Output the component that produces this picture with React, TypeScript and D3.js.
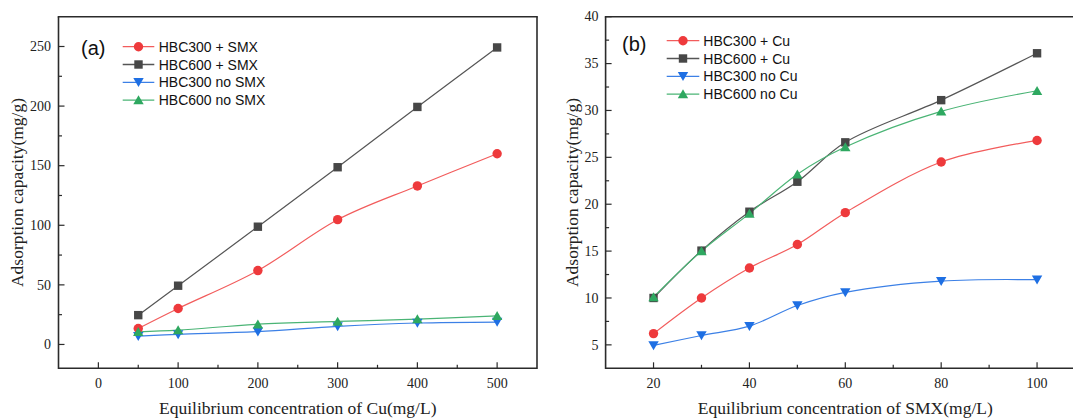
import React from "react";
import * as d3 from "d3";

// ---------- DATA ----------
const cuConc = [50, 100, 200, 300, 400, 500];
const hbc300SMX = [13.4, 30.2, 62, 104.7, 133, 160];
const hbc600SMX = [24.6, 49.3, 98.8, 148.7, 199.3, 249.2];
const hbc300noSMX = [7, 8.5, 10.8, 15.2, 18, 18.8];
const hbc600noSMX = [10.6, 12, 17, 19.3, 21.3, 24];

const smxConc = [20, 30, 40, 50, 60, 80, 100];
const hbc300Cu = [6.2, 10, 13.2, 15.7, 19.1, 24.5, 26.8];
const hbc600Cu = [10, 15.05, 19.2, 22.4, 26.6, 31.1, 36.1];
const hbc300noCu = [4.95, 6, 7, 9.2, 10.6, 11.8, 11.95];
const hbc600noCu = [10.1, 15, 19, 23.2, 26.1, 29.9, 32.1];

const legendA = ["HBC300 + SMX", "HBC600 + SMX", "HBC300 no SMX", "HBC600 no SMX"];
const legendB = ["HBC300 + Cu", "HBC600 + Cu", "HBC300 no Cu", "HBC600 no Cu"];

const xTicksA = [0, 100, 200, 300, 400, 500];
const xMinorA = [50, 150, 250, 350, 450];
const yTicksA = [0, 50, 100, 150, 200, 250];
const yMinorA = [25, 75, 125, 175, 225];

const xTicksB = [20, 40, 60, 80, 100];
const xMinorB = [30, 50, 70, 90];
const yTicksB = [5, 10, 15, 20, 25, 30, 35, 40];
const yMinorB = [7.5, 12.5, 17.5, 22.5, 27.5, 32.5, 37.5];

// ---------- STYLE ----------
const styles = [
  { marker: "circle", fill: "#EE3A3C", line: "#F25C5C" },
  { marker: "square", fill: "#474747", line: "#555555" },
  { marker: "down", fill: "#1E6FE3", line: "#3C80E6" },
  { marker: "up", fill: "#2EA860", line: "#4AB475" },
];

const AXIS = "#2b2b2b";
const SERIF = "'Liberation Serif', 'Times New Roman', serif";
const SANS = "'Liberation Sans', Arial, sans-serif";

function Marker({ type, x, y, fill }: { type: string; x: number; y: number; fill: string }) {
  if (type === "circle") return <circle cx={x} cy={y} r={4.7} fill={fill} />;
  if (type === "square") return <rect x={x - 4.2} y={y - 4.2} width={8.4} height={8.4} fill={fill} />;
  if (type === "down")
    return <path d={`M${x - 5.2},${y - 4.2}L${x + 5.2},${y - 4.2}L${x},${y + 4.8}Z`} fill={fill} />;
  return <path d={`M${x - 5.2},${y + 4.2}L${x + 5.2},${y + 4.2}L${x},${y - 4.8}Z`} fill={fill} />;
}

type PanelProps = {
  left: number; right: number; top: number; bottom: number;
  xDomain: [number, number]; yDomain: [number, number];
  xTicks: number[]; xMinor: number[]; yTicks: number[]; yMinor: number[];
  xs: number[]; series: number[][]; names: string[];
  xTitle: string; tag: string;
  tagX: number; tagY: number;
  legX1: number; legX2: number; legTextX: number; legY0: number; legDy: number;
  yTitleX: number; yLabelRight: number; showRight: boolean;
};

function Panel(p: PanelProps) {
  const x = d3.scaleLinear().domain(p.xDomain).range([p.left, p.right]);
  const y = d3.scaleLinear().domain(p.yDomain).range([p.bottom, p.top]);
  const line = d3
    .line<[number, number]>()
    .x((d) => x(d[0]))
    .y((d) => y(d[1]))
    .curve(d3.curveCatmullRom.alpha(0.5));
  const major = 6;
  const minor = 3.5;
  const midY = (p.top + p.bottom) / 2;
  return (
    <g>
      {/* series lines */}
      {p.series.map((s, i) => (
        <path
          key={"l" + i}
          d={line(p.xs.map((v, j) => [v, s[j]] as [number, number])) || ""}
          fill="none"
          stroke={styles[i].line}
          strokeWidth={1.2}
        />
      ))}
      {/* markers */}
      {p.series.map((s, i) =>
        p.xs.map((v, j) => (
          <Marker key={"m" + i + "-" + j} type={styles[i].marker} x={x(v)} y={y(s[j])} fill={styles[i].fill} />
        ))
      )}
      {/* frame */}
      <line x1={p.left} x2={p.right} y1={p.bottom} y2={p.bottom} stroke={AXIS} strokeWidth={1.6} />
      <line x1={p.left} x2={p.left} y1={p.top} y2={p.bottom + 0.8} stroke={AXIS} strokeWidth={1.6} />
      <line x1={p.left - 0.8} x2={p.right + 0.8} y1={p.top} y2={p.top} stroke={AXIS} strokeWidth={1.6} />
      {p.showRight && (
        <line x1={p.right} x2={p.right} y1={p.top} y2={p.bottom + 0.8} stroke={AXIS} strokeWidth={1.6} />
      )}
      {/* x ticks */}
      {p.xTicks.map((t) => (
        <g key={"xt" + t}>
          <line x1={x(t)} x2={x(t)} y1={p.bottom} y2={p.bottom - major} stroke={AXIS} strokeWidth={1.2} />
          <text x={x(t)} y={p.bottom + 19.5} textAnchor="middle" fontFamily={SERIF} fontSize={14} fill="#222">
            {t}
          </text>
        </g>
      ))}
      {p.xMinor.map((t) => (
        <line key={"xm" + t} x1={x(t)} x2={x(t)} y1={p.bottom} y2={p.bottom - minor} stroke={AXIS} strokeWidth={1.2} />
      ))}
      {/* y ticks */}
      {p.yTicks.map((t) => (
        <g key={"yt" + t}>
          <line x1={p.left} x2={p.left + major} y1={y(t)} y2={y(t)} stroke={AXIS} strokeWidth={1.2} />
          <text x={p.yLabelRight} y={y(t) + 4.7} textAnchor="end" fontFamily={SERIF} fontSize={14} fill="#222">
            {t}
          </text>
        </g>
      ))}
      {p.yMinor.map((t) => (
        <line key={"ym" + t} x1={p.left} x2={p.left + minor} y1={y(t)} y2={y(t)} stroke={AXIS} strokeWidth={1.2} />
      ))}
      {/* titles */}
      <text
        x={(p.left + (p.showRight ? p.right : p.right)) / 2}
        y={414}
        textAnchor="middle"
        fontFamily={SERIF}
        fontSize={17.5}
        fill="#222"
      >
        {p.xTitle}
      </text>
      <text
        transform={`translate(${p.yTitleX},${midY}) rotate(-90)`}
        textAnchor="middle"
        fontFamily={SERIF}
        fontSize={17.5}
        fill="#222"
      >
        Adsorption capacity(mg/g)
      </text>
      {/* tag */}
      <text x={p.tagX} y={p.tagY} fontFamily={SANS} fontSize={20} fill="#111">
        {p.tag}
      </text>
      {/* legend */}
      {p.names.map((n, i) => {
        const ly = p.legY0 + i * p.legDy;
        return (
          <g key={"lg" + i}>
            <line x1={p.legX1} x2={p.legX2} y1={ly} y2={ly} stroke={styles[i].line} strokeWidth={1.3} />
            <Marker type={styles[i].marker} x={(p.legX1 + p.legX2) / 2} y={ly} fill={styles[i].fill} />
            <text x={p.legTextX} y={ly + 5} fontFamily={SANS} fontSize={14} fill="#111">
              {n}
            </text>
          </g>
        );
      })}
    </g>
  );
}

export default function App() {
  return (
    <svg
      width={1073}
      height={419}
      style={{ position: "absolute", left: 0, top: 0, background: "#fff" }}
    >
      <rect x={0} y={0} width={1073} height={419} fill="#fff" />
      <Panel
        left={58.5}
        right={537}
        top={16.7}
        bottom={368.3}
        xDomain={[-50, 550]}
        yDomain={[-20, 275]}
        xTicks={xTicksA}
        xMinor={xMinorA}
        yTicks={yTicksA}
        yMinor={yMinorA}
        xs={cuConc}
        series={[hbc300SMX, hbc600SMX, hbc300noSMX, hbc600noSMX]}
        names={legendA}
        xTitle="Equilibrium concentration of Cu(mg/L)"
        tag="(a)"
        tagX={81}
        tagY={55}
        legX1={122.7}
        legX2={154.3}
        legTextX={158.7}
        legY0={46.7}
        legDy={17.8}
        yTitleX={23}
        yLabelRight={51}
        showRight={true}
      />
      <Panel
        left={605.6}
        right={1085}
        top={16.7}
        bottom={368.3}
        xDomain={[10, 110]}
        yDomain={[2.5, 40]}
        xTicks={xTicksB}
        xMinor={xMinorB}
        yTicks={yTicksB}
        yMinor={yMinorB}
        xs={smxConc}
        series={[hbc300Cu, hbc600Cu, hbc300noCu, hbc600noCu]}
        names={legendB}
        xTitle="Equilibrium concentration of SMX(mg/L)"
        tag="(b)"
        tagX={622}
        tagY={51}
        legX1={666.7}
        legX2={699.3}
        legTextX={703.3}
        legY0={40.7}
        legDy={17.8}
        yTitleX={577.5}
        yLabelRight={598.5}
        showRight={false}
      />
    </svg>
  );
}
